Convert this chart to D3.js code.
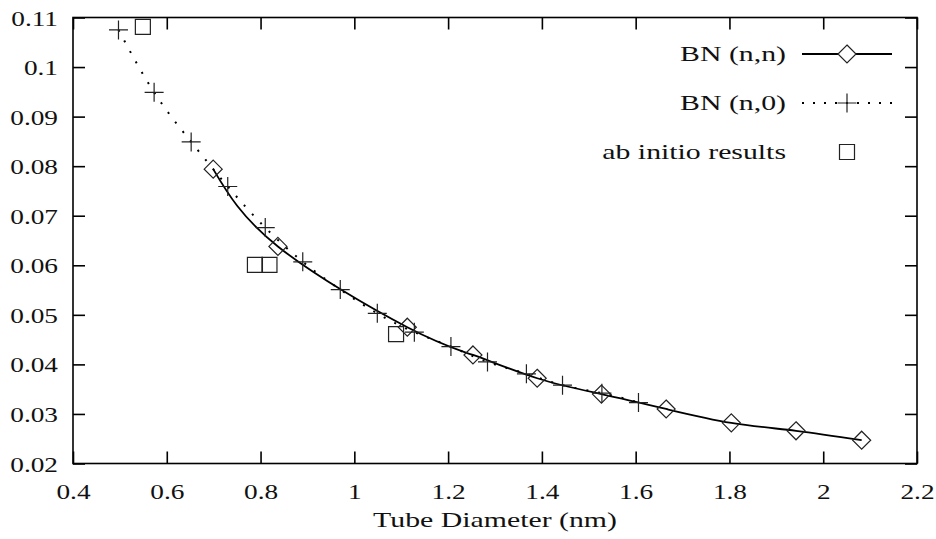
<!DOCTYPE html>
<html>
<head>
<meta charset="utf-8">
<script src="https://cdn.jsdelivr.net/npm/d3@7"></script>
<style>
  body { margin: 0; background: #fff; }
</style>
</head>
<body>
<svg id="chart" width="936" height="539" style="font-family: 'Liberation Serif', 'Times New Roman', serif;"></svg>
<script>
// BN (n,n) armchair tubes
const nnX = [0.699, 0.837, 1.113, 1.253, 1.390, 1.527, 1.665, 1.804, 1.942, 2.082];
const nnY = [0.0794, 0.0638, 0.0475, 0.0419, 0.0372, 0.0340, 0.0310, 0.0282, 0.0266, 0.0247];
// BN (n,0) zigzag tubes
const n0X = [0.497, 0.573, 0.652, 0.730, 0.810, 0.890, 0.970, 1.049, 1.128, 1.206, 1.284, 1.367, 1.444, 1.528, 1.606];
const n0Y = [0.1075, 0.0949, 0.0849, 0.0759, 0.0676, 0.0607, 0.0551, 0.0503, 0.0465, 0.0436, 0.0405, 0.0381, 0.0358, 0.0342, 0.0323];
// ab initio results
const abX = [0.549, 0.788, 0.819, 1.089];
const abY = [0.1081, 0.0601, 0.0601, 0.0461];

const xTicks = [0.4, 0.6, 0.8, 1.0, 1.2, 1.4, 1.6, 1.8, 2.0, 2.2];
const yTicks = [0.02, 0.03, 0.04, 0.05, 0.06, 0.07, 0.08, 0.09, 0.10, 0.11];
const legendLabels = ["BN (n,n)", "BN (n,0)", "ab initio results"];
const xTitle = "Tube Diameter (nm)";

const mLeft = 73, mRight = 917, mTop = 17.5, mBottom = 463.5;
const numStretch = 1.27, wordStretch = 1.42;
const serif = "'Liberation Serif', 'Times New Roman', serif";

const svg = d3.select("#chart");

const x = d3.scaleLinear().domain([0.4, 2.2]).range([mLeft, mRight]);
const y = d3.scaleLinear().domain([0.02, 0.11]).range([mBottom, mTop]);

const fmt = d => String(+d.toFixed(2));

// axes with inward ticks, mirrored on top/right
const gx = svg.append("g").attr("transform", "translate(0," + mBottom + ")")
  .call(d3.axisBottom(x).tickValues(xTicks).tickSizeInner(-12).tickSizeOuter(0).tickPadding(0).tickFormat(fmt));
const gy = svg.append("g").attr("transform", "translate(" + mLeft + ",0)")
  .call(d3.axisLeft(y).tickValues(yTicks).tickSizeInner(-12).tickSizeOuter(0).tickPadding(0).tickFormat(fmt));
const gxt = svg.append("g").attr("transform", "translate(0," + mTop + ")")
  .call(d3.axisTop(x).tickValues(xTicks).tickSizeInner(-12).tickSizeOuter(0).tickFormat(""));
const gyr = svg.append("g").attr("transform", "translate(" + mRight + ",0)")
  .call(d3.axisRight(y).tickValues(yTicks).tickSizeInner(-12).tickSizeOuter(0).tickFormat(""));

[gx, gy, gxt, gyr].forEach(g => {
  g.attr("font-family", serif).attr("font-size", null);
  g.select(".domain").remove();
  g.selectAll(".tick line").attr("stroke", "#000").attr("stroke-width", 1.6);
});

gx.selectAll(".tick text")
  .attr("x", null).attr("y", null).attr("dy", null)
  .attr("transform", "translate(0,35.5) scale(" + numStretch + ",1)")
  .attr("text-anchor", "middle")
  .attr("fill", "#111")
  .style("font-family", serif)
  .style("font-size", "21.5px");

gy.selectAll(".tick text")
  .attr("x", null).attr("dy", null).attr("y", null)
  .attr("transform", "translate(-15,7.5) scale(" + numStretch + ",1)")
  .attr("text-anchor", "end")
  .attr("fill", "#111")
  .style("font-family", serif)
  .style("font-size", "21.5px");

// frame
svg.append("rect")
  .attr("x", mLeft).attr("y", mTop)
  .attr("width", mRight - mLeft).attr("height", mBottom - mTop)
  .attr("fill", "none").attr("stroke", "#000").attr("stroke-width", 1.6);

// axis title
svg.append("text")
  .attr("transform", "translate(" + ((mLeft + mRight) / 2) + ",527) scale(" + wordStretch + ",1)")
  .attr("text-anchor", "middle")
  .attr("fill", "#111")
  .style("font-family", serif)
  .style("font-size", "21px")
  .text(xTitle);

// markers
const diamondPath = s => `M0,${-s}L${s},0L0,${s}L${-s},0Z`;
const plusPath = s => `M${-s},0H${s}M0,${-s}V${s}`;
const squarePath = s => `M${-s},${-s}H${s}V${s}H${-s}Z`;

const nnData = nnX.map((v, i) => [v, nnY[i]]);
const n0Data = n0X.map((v, i) => [v, n0Y[i]]);
const abData = abX.map((v, i) => [v, abY[i]]);

const line = d3.line().x(d => x(d[0])).y(d => y(d[1])).curve(d3.curveNatural);

// dotted (n,0)
svg.append("path")
  .attr("d", line(n0Data))
  .attr("fill", "none").attr("stroke", "#000")
  .attr("stroke-width", 2).attr("stroke-dasharray", "2 10");

// solid (n,n)
svg.append("path")
  .attr("d", line(nnData))
  .attr("fill", "none").attr("stroke", "#000")
  .attr("stroke-width", 1.8);

svg.append("g").selectAll("path").data(nnData).join("path")
  .attr("transform", d => "translate(" + x(d[0]) + "," + y(d[1]) + ")")
  .attr("d", diamondPath(9))
  .attr("fill", "none").attr("stroke", "#222").attr("stroke-width", 1.2);

svg.append("g").selectAll("path").data(n0Data).join("path")
  .attr("transform", d => "translate(" + x(d[0]) + "," + y(d[1]) + ")")
  .attr("d", plusPath(9.5))
  .attr("fill", "none").attr("stroke", "#222").attr("stroke-width", 1.2);

svg.append("g").selectAll("path").data(abData).join("path")
  .attr("transform", d => "translate(" + x(d[0]) + "," + y(d[1]) + ")")
  .attr("d", squarePath(7.5))
  .attr("fill", "none").attr("stroke", "#222").attr("stroke-width", 1.2);

// legend
const legRows = [54, 103, 152];
const legX0 = 802, legX1 = 892, legMid = 847;
const lg = svg.append("g");
legendLabels.forEach((lab, i) => {
  lg.append("text")
    .attr("transform", "translate(786," + (legRows[i] + 7) + ") scale(" + wordStretch + ",1)")
    .attr("text-anchor", "end")
    .attr("fill", "#111")
    .style("font-family", serif)
    .style("font-size", "21px")
    .text(lab);
});
lg.append("line").attr("x1", legX0).attr("x2", legX1).attr("y1", legRows[0]).attr("y2", legRows[0])
  .attr("stroke", "#000").attr("stroke-width", 1.8);
lg.append("path").attr("transform", "translate(" + legMid + "," + legRows[0] + ")")
  .attr("d", diamondPath(9)).attr("fill", "#fff").attr("stroke", "#222").attr("stroke-width", 1.2);
lg.append("line").attr("x1", legX0).attr("x2", legX1).attr("y1", legRows[1]).attr("y2", legRows[1])
  .attr("stroke", "#000").attr("stroke-width", 2).attr("stroke-dasharray", "2 9");
lg.append("path").attr("transform", "translate(" + legMid + "," + legRows[1] + ")")
  .attr("d", plusPath(9.5)).attr("fill", "none").attr("stroke", "#222").attr("stroke-width", 1.2);
lg.append("path").attr("transform", "translate(" + legMid + "," + legRows[2] + ")")
  .attr("d", squarePath(7.5)).attr("fill", "none").attr("stroke", "#222").attr("stroke-width", 1.2);
</script>
</body>
</html>
